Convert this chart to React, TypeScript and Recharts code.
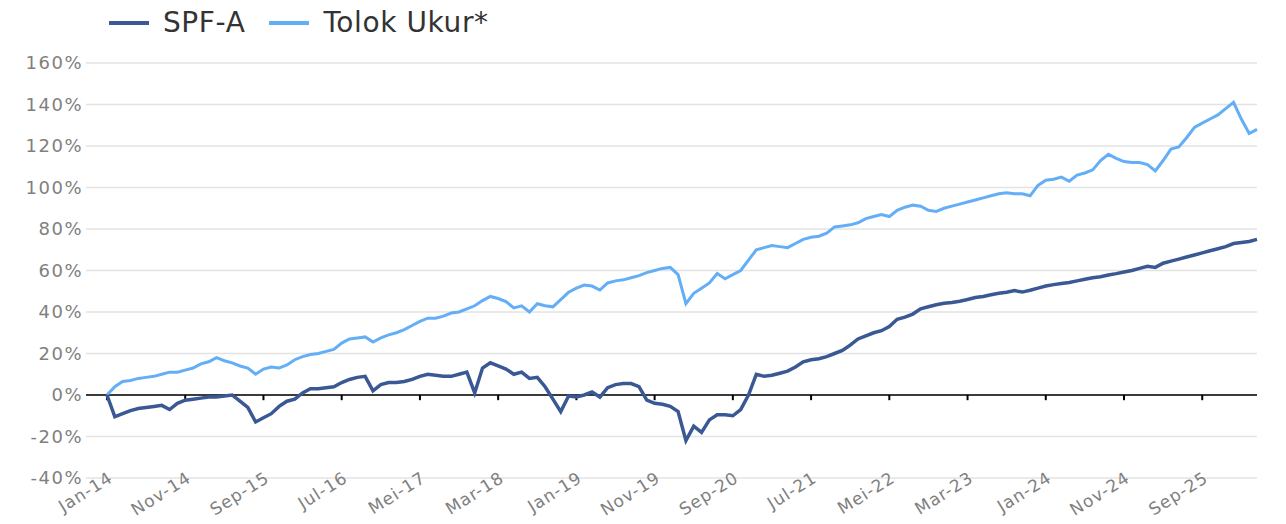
import React from 'react';
import { LineChart, Line, XAxis, YAxis, CartesianGrid, ReferenceLine } from 'recharts';

// month names (Indonesian) and years used to build the monthly category labels
const monthNames = ['Jan', 'Feb', 'Mar', 'Apr', 'Mei', 'Jun', 'Jul', 'Agu', 'Sep', 'Okt', 'Nov', 'Des'];
const startYear = 14;

// SPF-A, cumulative return in %, month by month from Jan-14
const spfA = [
  0, -10.5, -9, -7.5, -6.5, -6, -5.5, -5, -7, -4,
  -2.5, -2, -1.5, -1, -1, -0.5, 0, -3, -6, -13,
  -11, -9, -5.5, -3, -2, 1, 3, 3, 3.5, 4,
  6, 7.5, 8.5, 9, 2, 5, 6, 6, 6.5, 7.5,
  9, 10, 9.5, 9, 9, 10, 11, 1, 13, 15.5,
  14, 12.5, 10, 11, 8, 8.5, 4, -2, -8, -0.5,
  -1, 0, 1.5, -1, 3.5, 5, 5.5, 5.5, 4, -2.5,
  -4, -4.5, -5.5, -8, -22, -15, -18, -12, -9.5, -9.5,
  -10, -7, 0, 10, 9, 9.5, 10.5, 11.5, 13.5, 16,
  17, 17.5, 18.5, 20, 21.5, 24, 27, 28.5, 30, 31,
  33, 36.5, 37.5, 39, 41.5, 42.5, 43.5, 44.2, 44.6, 45.2,
  46, 47, 47.5, 48.3, 49, 49.5, 50.3, 49.6, 50.5, 51.5,
  52.5, 53.2, 53.7, 54.2, 55, 55.8, 56.5, 57, 57.8, 58.5,
  59.3, 60, 61, 62, 61.5, 63.5, 64.5, 65.5, 66.5, 67.5,
  68.5, 69.5, 70.5, 71.5, 73, 73.5, 74, 75,
];

// Tolok Ukur* (benchmark), cumulative return in %
const tolokUkur = [
  0, 4, 6.5, 7, 8, 8.5, 9, 10, 11, 11,
  12, 13, 15, 16, 18, 16.5, 15.5, 14, 13, 10,
  12.5, 13.5, 13, 14.5, 17, 18.5, 19.5, 20, 21, 22,
  25, 27, 27.5, 28, 25.5, 27.5, 29, 30, 31.5, 33.5,
  35.5, 37, 37, 38, 39.5, 40, 41.5, 43, 45.5, 47.5,
  46.5, 45, 42, 43, 40, 44, 43, 42.5, 46, 49.5,
  51.5, 53, 52.5, 50.6, 54, 55, 55.5, 56.5, 57.5, 59,
  60, 61, 61.5, 58, 44, 49, 51.5, 54, 58.5, 56,
  58, 60, 65, 70, 71, 72, 71.5, 71, 73, 75,
  76, 76.5, 78, 81, 81.5, 82, 83, 85, 86, 87,
  86, 89, 90.5, 91.5, 91, 89, 88.5, 90, 91, 92,
  93, 94, 95, 96, 97, 97.5, 97, 97, 96, 101,
  103.5, 104, 105, 103, 106, 107, 108.5, 113, 116, 114,
  112.5, 112, 112, 111, 108, 113, 118.5, 119.5, 124, 129,
  131, 133, 135, 138, 141, 133, 126, 128,
];

const yTicks = [-40, -20, 0, 20, 40, 60, 80, 100, 120, 140, 160];

const labels = spfA.map((_, i) => `${monthNames[i % 12]}-${startYear + Math.floor(i / 12)}`);
const tickLabels = labels.filter((_, i) => i % 10 === 0);

const data = labels.map((label, i) => ({ label, spf: spfA[i], tolok: tolokUkur[i] }));

const DARK = '#3a5894';
const LIGHT = '#63aef7';
const FONT = '"DejaVu Sans", sans-serif';

const XTick = ({ x, y, payload }: any) => {
  const px = x + 7;
  const py = y + 3;
  return (
    <text x={px} y={py} transform={`rotate(-32 ${px} ${py})`} textAnchor="end" fill="#808080" fontSize={17} fontFamily={FONT} letterSpacing={1}>
      {payload.value}
    </text>
  );
};

const LegendItem = ({ color, text }: { color: string; text: string }) => (
  <div style={{ display: 'flex', alignItems: 'center', marginRight: 24 }}>
    <span style={{ display: 'inline-block', width: 40, height: 4, background: color, marginRight: 14 }} />
    <span>{text}</span>
  </div>
);

export default function App() {
  return (
    <div style={{ position: 'relative', width: 1270, height: 516, fontFamily: FONT }}>
      <div style={{ position: 'absolute', left: 101, top: 0, display: 'flex', fontSize: 28, letterSpacing: 0.6, lineHeight: '30px', color: '#333', zIndex: 1 }}>
        <LegendItem color={DARK} text="SPF-A" />
        <LegendItem color={LIGHT} text="Tolok Ukur*" />
      </div>
      <LineChart width={1270} height={516} data={data} margin={{ top: 55, right: 21, left: 0, bottom: 0 }}>
        <CartesianGrid vertical={false} stroke="#e3e3e3" strokeWidth={1.5} />
        <XAxis
          dataKey="label"
          interval={9}
          height={46}
          tickLine={false}
          axisLine={false}
          tickSize={0}
          tickMargin={0}
          padding={{ left: 21, right: 0 }}
          tick={<XTick />}
        />
        <YAxis
          domain={[-40, 160]}
          ticks={yTicks}
          width={78}
          axisLine={false}
          tickLine={false}
          tickSize={0}
          tickMargin={3}
          tickFormatter={(v) => `${v}%`}
          tick={{ fill: '#808080', fontSize: 18, fontFamily: FONT, letterSpacing: 1.5 }}
        />
        <ReferenceLine y={0} stroke="#000" strokeWidth={1.5} />
        {tickLabels.map((t) => (
          <ReferenceLine key={t} segment={[{ x: t, y: 0 }, { x: t, y: -2.5 }]} stroke="#000" strokeWidth={2} />
        ))}
        <Line type="linear" dataKey="tolok" stroke={LIGHT} strokeWidth={3} dot={false} isAnimationActive={false} />
        <Line type="linear" dataKey="spf" stroke={DARK} strokeWidth={3.5} dot={false} isAnimationActive={false} />
      </LineChart>
    </div>
  );
}
